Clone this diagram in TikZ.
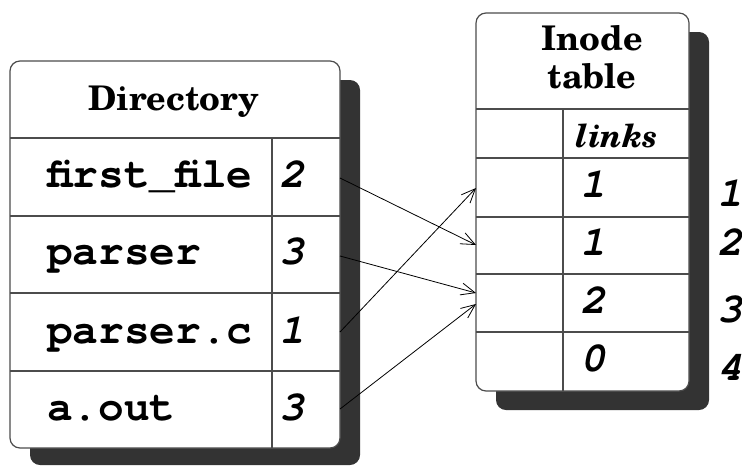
\documentclass[tikz,border=0pt]{standalone}
\usepackage{fontspec}
\setmainfont{TeX Gyre Schola}
\setmonofont{TeX Gyre Cursor}
\usetikzlibrary{arrows.meta}
\definecolor{shadowgray}{HTML}{333333}
\tikzset{
  shadowbox/.style={fill=shadowgray, rounded corners=5pt},
  tablebox/.style={draw=black!70, fill=white, rounded corners=5pt, line width=0.6pt},
  tablerule/.style={draw=black!70, line width=0.6pt},
  title/.style={anchor=base, font=\fontsize{17}{19}\selectfont\bfseries},
  colhead/.style={anchor=base, font=\fontsize{16}{19}\selectfont\bfseries\itshape},
  fname/.style={anchor=base west, font=\fontsize{21.4}{24}\selectfont\ttfamily\bfseries},
  count/.style={anchor=base, font=\fontsize{21}{24}\selectfont\ttfamily\bfseries\itshape},
  link/.style={-{Straight Barb[length=7pt,width=6pt]}, line width=0.4pt}
}
\begin{document}
\begin{tikzpicture}[x=0.5pt,y=-0.5pt]
  \useasboundingbox (0,0) rectangle (742,466);

  % directory
  \fill[shadowbox] (30,80) rectangle (360,465);
  \draw[tablebox] (10,61) rectangle (340,448);
  \foreach \y in {138,216,293,371}
    \draw[tablerule] (10,\y) -- (340,\y);
  \draw[tablerule] (272,138) -- (272,448);
  \node[title] (dirtitle) at (174,110) {Directory};
  \foreach \name/\n/\y [count=\i] in {first\_file/2/187, parser/3/264, parser.c/1/343, a.out/3/420} {
    \node[fname] (file\i) at (40,\y) {\name};
    \node[count] (fnum\i) at (292,\y) {\n};
  }

  % inode table
  \fill[shadowbox] (496,32) rectangle (709,410);
  \draw[tablebox] (476,13) rectangle (689,391);
  \foreach \y in {109,158,217,274,332}
    \draw[tablerule] (476,\y) -- (689,\y);
  \draw[tablerule] (563,109) -- (563,391);
  \node[title] (inode) at (592,50) {Inode};
  \node[title] (table) at (592,88) {table};
  \node[colhead] (links) at (617,147) {links};
  \foreach \n/\y [count=\i] in {1/197, 1/255, 2/313, 0/371}
    \node[count] (cnt\i) at (593,\y) {\n};
  \foreach \y [count=\i] in {206,255,322,380}
    \node[count] (ino\i) at (730,\y) {\i};

  % links
  \coordinate (out1) at (340,178);
  \coordinate (out2) at (340,256);
  \coordinate (out3) at (340,332);
  \coordinate (out4) at (340,409);
  \coordinate (in1) at (476,188);
  \coordinate (in2) at (476,245);
  \coordinate (in3a) at (476,293);
  \coordinate (in3b) at (476,304);
  \draw[link] (out1) -- (in2);
  \draw[link] (out2) -- (in3a);
  \draw[link] (out3) -- (in1);
  \draw[link] (out4) -- (in3b);
\end{tikzpicture}
\end{document}
